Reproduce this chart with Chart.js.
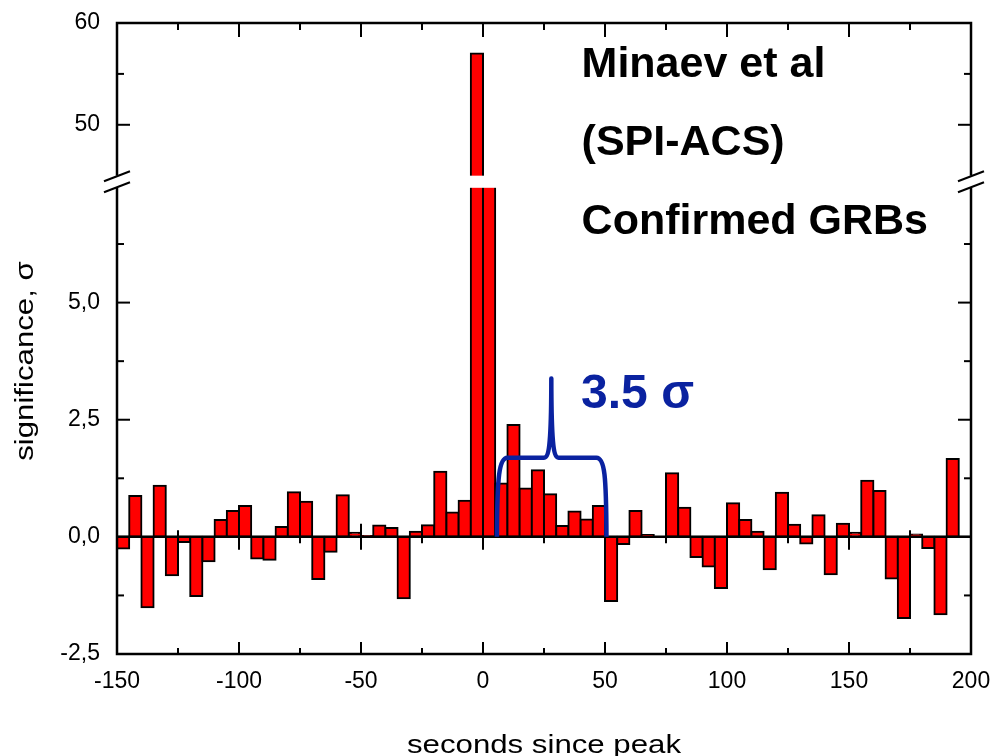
<!DOCTYPE html>
<html>
<head>
<meta charset="utf-8">
<script src="https://cdn.jsdelivr.net/npm/chart.js@4/dist/chart.umd.min.js"></script>
<style>
html, body { margin: 0; padding: 0; background: #fff; }
</style>
</head>
<body>
<canvas id="chart" width="993" height="756"></canvas>
<script>
let ctx = document.getElementById('chart').getContext('2d');

// 5 s bins, centre of each bin
let binCenters = [-147.5, -142.5, -137.5, -132.5, -127.5, -122.5, -117.5, -112.5, -107.5, -102.5,
	-97.5, -92.5, -87.5, -82.5, -77.5, -72.5, -67.5, -62.5, -57.5, -52.5,
	-47.5, -42.5, -37.5, -32.5, -27.5, -22.5, -17.5, -12.5, -7.5, -2.5,
	2.5, 7.5, 12.5, 17.5, 22.5, 27.5, 32.5, 37.5, 42.5, 47.5,
	52.5, 57.5, 62.5, 67.5, 72.5, 77.5, 82.5, 87.5, 92.5, 97.5,
	102.5, 107.5, 112.5, 117.5, 122.5, 127.5, 132.5, 137.5, 142.5, 147.5,
	152.5, 157.5, 162.5, 167.5, 172.5, 177.5, 182.5, 187.5, 192.5];

let significance = [-0.25, 0.87, -1.50, 1.09, -0.82, -0.11, -1.26, -0.52, 0.36, 0.55,
	0.66, -0.46, -0.49, 0.21, 0.95, 0.75, -0.90, -0.32, 0.89, 0.09,
	0.02, 0.24, 0.19, -1.31, 0.11, 0.25, 1.39, 0.52, 0.77, 57,
	30, 1.14, 2.39, 1.03, 1.42, 0.91, 0.23, 0.54, 0.37, 0.66,
	-1.37, -0.15, 0.55, 0.04, 0, 1.36, 0.62, -0.43, -0.63, -1.09,
	0.72, 0.36, 0.11, -0.69, 0.94, 0.26, -0.14, 0.46, -0.80, 0.28,
	0.09, 1.20, 0.98, -0.89, -1.73, 0.05, -0.24, -1.65, 1.66];

let xTicks = [-150, -100, -50, 0, 50, 100, 150, 200];
let lowTicks = [-2.5, 0, 2.5, 5];
let highTicks = [50, 60];
let notes = ['Minaev et al', '(SPI-ACS)', 'Confirmed GRBs'];
let bracketText = '3.5 σ';
let xTitle = 'seconds since peak';
let yTitle = 'significance, σ';

const LOW_MAX = 7.6;    // top of lower panel
const HIGH_MIN = 44.5;  // bottom of upper panel
const FONT = '"Liberation Sans", Arial, sans-serif';
const BLUE = '#0a22a0';

Chart.defaults.font.family = FONT;
Chart.defaults.color = '#000';

function line(c, x1, y1, x2, y2){
	c.beginPath();
	c.moveTo(x1, y1);
	c.lineTo(x2, y2);
	c.stroke();
}

let decor = {
	id: 'decor',
	afterDatasetsDraw(chart){
		let c = chart.ctx;
		let a = chart.chartArea;
		let x = chart.scales.x, y = chart.scales.y, y2 = chart.scales.y2;
		c.save();
		c.strokeStyle = '#000';

		// zero line with crossing ticks
		let y0 = y.getPixelForValue(0);
		c.lineWidth = 2.5;
		line(c, a.left, y0, a.right, y0);
		c.lineWidth = 2;
		for(let k = -5; k <= 7; k++){
			let px = x.getPixelForValue(k * 25);
			let h = k % 2 == 0 ? 13 : 6.5;
			line(c, px, y0 - h, px, y0 + h);
		}

		// frame
		c.lineWidth = 2.5;
		c.strokeRect(a.left, a.top, a.right - a.left, a.bottom - a.top);

		// inward ticks
		c.lineWidth = 2;
		for(let k = -6; k <= 8; k++){
			let px = x.getPixelForValue(k * 25);
			let major = k % 2 == 0;
			line(c, px, a.bottom, px, a.bottom - (major ? 12 : 6));
			line(c, px, a.top, px, a.top + (major ? 14 : 7));
		}
		for(let k = -2; k <= 5; k++){
			let py = y.getPixelForValue(k * 1.25);
			let len = k % 2 == 0 ? 13 : 7;
			line(c, a.left, py, a.left + len, py);
			line(c, a.right, py, a.right - len, py);
		}
		for(let k = 10; k <= 12; k++){
			let py = y2.getPixelForValue(k * 5);
			let len = k % 2 == 0 ? 13 : 7;
			line(c, a.left, py, a.left + len, py);
			line(c, a.right, py, a.right - len, py);
		}

		// 3.5 sigma bracket
		let P = (vx, vy) => [x.getPixelForValue(vx), y.getPixelForValue(vy)];
		c.strokeStyle = BLUE;
		c.lineWidth = 4.5;
		c.lineJoin = 'round';
		c.beginPath();
		c.moveTo(...P(5.7, 0));
		c.bezierCurveTo(...P(5.8, 1.3), ...P(6.6, 1.69), ...P(10, 1.69));
		c.lineTo(...P(25, 1.69));
		c.bezierCurveTo(...P(27.3, 1.69), ...P(28, 2.1), ...P(28, 3.38));
		c.bezierCurveTo(...P(28, 2.1), ...P(28.7, 1.69), ...P(31, 1.69));
		c.lineTo(...P(46.5, 1.69));
		c.bezierCurveTo(...P(49.9, 1.69), ...P(50.5, 1.3), ...P(50.6, 0));
		c.stroke();

		c.fillStyle = BLUE;
		c.font = 'bold 48px ' + FONT;
		c.textAlign = 'left';
		c.textBaseline = 'alphabetic';
		c.fillText(bracketText, ...P(40.2, 2.74));

		// axis break
		let gTop = y2.getPixelForValue(45);
		let gBot = y.getPixelForValue(7.45);
		c.fillStyle = '#fff';
		c.fillRect(a.left - 3, gTop, a.right - a.left + 6, gBot - gTop);
		let cy = (gTop + gBot) / 2;
		c.strokeStyle = '#000';
		c.lineWidth = 2;
		[a.left, a.right].forEach(px => {
			[-1, 1].forEach(s => {
				line(c, px - 13, cy + s * 5.5 + 5, px + 13, cy + s * 5.5 - 5);
			});
		});

		// notes
		c.fillStyle = '#000';
		c.font = 'bold 43px ' + FONT;
		let nx = x.getPixelForValue(40.4);
		notes.forEach((t, i) => {
			c.fillText(t, nx, a.top + 53.5 + i * 78.5);
		});

		// axis titles
		c.font = '26px ' + FONT;
		c.textAlign = 'center';
		c.save();
		c.translate((a.left + a.right) / 2, 753);
		c.scale(1.2, 1);
		c.fillText(xTitle, 0, 0);
		c.restore();
		c.save();
		c.translate(33, 361);
		c.rotate(-Math.PI / 2);
		c.scale(1.2, 1);
		c.fillText(yTitle, 0, 0);
		c.restore();

		c.restore();
	}
};

let barStyle = {
	backgroundColor: '#ff0000',
	borderColor: '#000',
	borderWidth: 2,
	inflateAmount: 1,
	borderSkipped: false,
	barPercentage: 1,
	categoryPercentage: 1,
	grouped: false
};

// tick labels may overhang the plot; the layout padding already leaves room
function fitVertical(s){
	s.width = 117;
	s.paddingTop = 0;
	s.paddingBottom = 0;
}

let chart = new Chart(ctx, {
	type: 'bar',
	data: {
		datasets: [
			Object.assign({
				yAxisID: 'y',
				data: binCenters.map((b, i) => ({x: b, y: Math.min(significance[i], LOW_MAX)}))
			}, barStyle),
			Object.assign({
				yAxisID: 'y2',
				base: HIGH_MIN,
				data: binCenters.map((b, i) => ({x: b, y: significance[i] > HIGH_MIN ? significance[i] : null}))
			}, barStyle)
		]
	},
	options: {
		responsive: false,
		animation: false,
		layout: {padding: {left: 0, top: 23, right: 22, bottom: 0}},
		plugins: {legend: {display: false}, tooltip: {enabled: false}},
		scales: {
			x: {
				type: 'linear',
				position: 'bottom',
				offset: false,
				min: -150,
				max: 200,
				afterBuildTicks: s => { s.ticks = xTicks.map(v => ({value: v})); },
				afterFit: s => { s.height = 102; s.paddingLeft = 0; s.paddingRight = 0; },
				ticks: {font: {size: 23}, padding: 14, autoSkip: false, maxRotation: 0},
				grid: {display: false, drawTicks: false, offset: false},
				border: {display: false}
			},
			y: {
				type: 'linear',
				position: 'left',
				stack: 'sig',
				stackWeight: 472.7,
				min: -2.5,
				max: LOW_MAX,
				afterBuildTicks: s => { s.ticks = lowTicks.map(v => ({value: v})); },
				afterFit: fitVertical,
				ticks: {font: {size: 23}, padding: 17, autoSkip: false,
					callback: v => v.toFixed(1).replace('.', ',')},
				grid: {display: false, drawTicks: false},
				border: {display: false}
			},
			y2: {
				type: 'linear',
				position: 'left',
				stack: 'sig',
				stackWeight: 157.6,
				min: HIGH_MIN,
				max: 60,
				afterBuildTicks: s => { s.ticks = highTicks.map(v => ({value: v})); },
				afterFit: fitVertical,
				ticks: {font: {size: 23}, padding: 17, autoSkip: false,
					callback: v => String(v)},
				grid: {display: false, drawTicks: false},
				border: {display: false}
			}
		}
	},
	plugins: [decor]
});
</script>
</body>
</html>
